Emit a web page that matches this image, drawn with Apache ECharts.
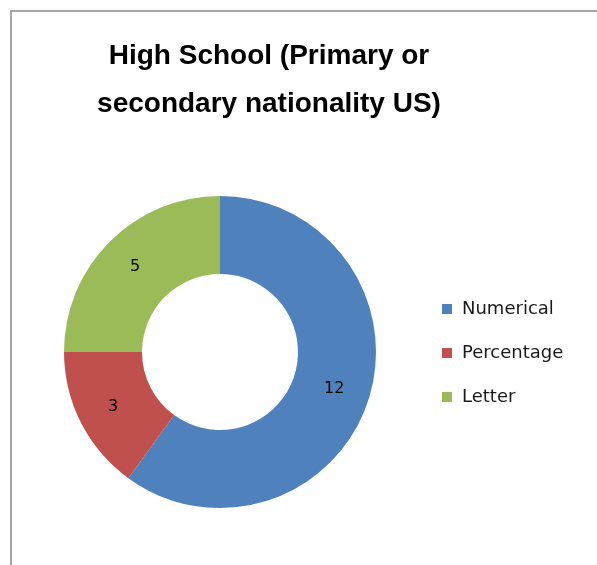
<!DOCTYPE html>
<html>
<head>
<meta charset="utf-8">
<script src="https://cdn.jsdelivr.net/npm/echarts@6/dist/echarts.min.js"></script>
<style>
html,body{margin:0;padding:0;background:#fff;}
#chart{width:597px;height:565px;}
</style>
</head>
<body>
<div id="chart"></div>
<script>
const titleText = 'High School (Primary or\nsecondary nationality US)';
const categories = ['Numerical', 'Percentage', 'Letter'];
const values = [12, 3, 5];
const colors = ['#4F81BD', '#C0504D', '#9BBB59'];

const chart = echarts.init(document.getElementById('chart'), null, {renderer: 'canvas'});
chart.setOption({
  backgroundColor: '#ffffff',
  animation: false,
  color: colors,
  title: {
    text: titleText,
    left: 269,
    top: 32,
    padding: 0,
    textAlign: 'center',
    textStyle: {
      fontFamily: 'Liberation Sans',
      fontWeight: 'bold',
      fontSize: 28,
      lineHeight: 48,
      color: '#000'
    }
  },
  graphic: [{
    type: 'rect',
    shape: {x: 11, y: 11, width: 700, height: 700},
    style: {fill: 'none', stroke: '#a6a6a6', lineWidth: 2},
    silent: true
  }],
  legend: {
    orient: 'vertical',
    left: 442,
    top: 300,
    padding: 0,
    itemWidth: 10,
    itemHeight: 10,
    itemGap: 26,
    icon: 'rect',
    data: categories,
    textStyle: {
      fontFamily: 'DejaVu Sans',
      fontSize: 18,
      color: '#1a1a1a',
      padding: [0, 0, 0, 5]
    }
  },
  series: [{
    type: 'pie',
    center: [220, 352],
    radius: [78, 156],
    startAngle: 90,
    clockwise: true,
    avoidLabelOverlap: false,
    label: {
      show: true,
      position: 'inside',
      formatter: '{c}',
      fontFamily: 'DejaVu Sans',
      fontSize: 16,
      color: '#000'
    },
    labelLine: {show: false},
    itemStyle: {borderWidth: 0},
    emphasis: {disabled: true},
    data: categories.map((c, i) => ({name: c, value: values[i]}))
  }]
});
</script>
</body>
</html>
